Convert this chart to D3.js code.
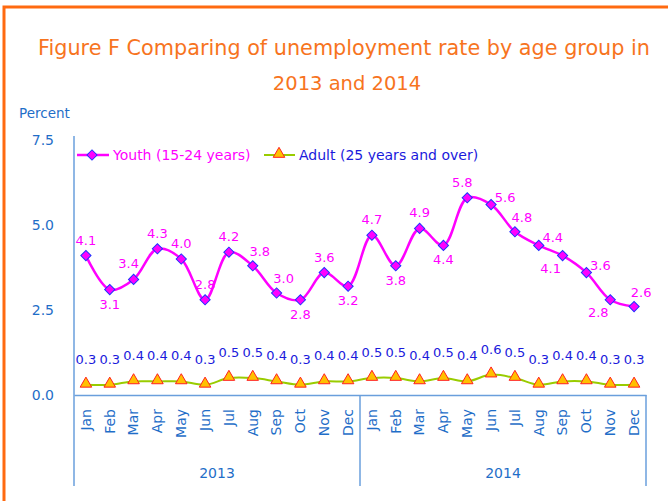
<!DOCTYPE html>
<html>
<head>
<meta charset="utf-8">
<script src="https://cdn.jsdelivr.net/npm/d3@7"></script>
<style>
  body { margin: 0; background: #fff; }
  svg { display: block; font-family: "DejaVu Sans", sans-serif; }
</style>
</head>
<body>
<svg id="chart" width="668" height="501"></svg>
<script>
// Data

var months = ["Jan","Feb","Mar","Apr","May","Jun","Jul","Aug","Sep","Oct","Nov","Dec"];
var years = ["2013","2014"];
var youth = [4.1,3.1,3.4,4.3,4.0,2.8,4.2,3.8,3.0,2.8,3.6,3.2,
             4.7,3.8,4.9,4.4,5.8,5.6,4.8,4.4,4.1,3.6,2.8,2.6];
var adult = [0.3,0.3,0.4,0.4,0.4,0.3,0.5,0.5,0.4,0.3,0.4,0.4,
             0.5,0.5,0.4,0.5,0.4,0.6,0.5,0.3,0.4,0.4,0.3,0.3];
var yTicks = [0, 2.5, 5.0, 7.5];
// where each youth label sits around its point
var youthLabelPos = ["t","b","tl","t","t","t","t","tr","tr","b","t","b",
                     "t","b","t","b","tl","r","tr","r","bl","r","bl","tr"];

var labelOffset = {
    t:  [0, -11], b:  [0, 19], tl: [-5, -11], tr: [7, -10],
    r:  [14, -3], bl: [-12, 17]
};

// Chart

var svg = d3.select("#chart");
var axisColor = "#6a9fdc", textBlue = "#1f6ec8";

svg.append("rect")
    .attr("x", 4).attr("y", 7).attr("width", 680).attr("height", 520)
    .attr("fill", "none").attr("stroke", "#ff6a10").attr("stroke-width", 3);

svg.append("text").attr("x", 344).attr("y", 55)
    .attr("text-anchor", "middle").attr("fill", "#f7741e").attr("font-size", 20.5)
    .attr("textLength", 612).attr("lengthAdjust", "spacingAndGlyphs")
    .text("Figure F Comparing of unemployment rate by age group in");
svg.append("text").attr("x", 347).attr("y", 90)
    .attr("text-anchor", "middle").attr("fill", "#f7741e").attr("font-size", 19.5)
    .text("2013 and 2014");

svg.append("text").attr("x", 19).attr("y", 118)
    .attr("fill", textBlue).attr("font-size", 13.5).text("Percent");

var n = youth.length;
var x = d3.scaleBand().domain(d3.range(n)).range([74, 646]);
var cx = function(i) { return x(i) + x.bandwidth() / 2; };
var y = d3.scaleLinear().domain([0, 7.5]).range([395, 140]);

// y axis
var yAxis = svg.append("g")
    .attr("transform", "translate(74,0)")
    .call(d3.axisLeft(y).tickValues(yTicks).tickSize(0).tickPadding(20).tickFormat(d3.format(".1f")));
yAxis.select(".domain").remove();
yAxis.selectAll("text").attr("fill", textBlue).attr("font-size", 14)
    .attr("font-family", "DejaVu Sans");

svg.append("line").attr("x1", 74).attr("x2", 74).attr("y1", 136).attr("y2", 486)
    .attr("stroke", axisColor).attr("stroke-width", 1.5);

// x axis
var xAxis = svg.append("g")
    .attr("transform", "translate(0,395)")
    .call(d3.axisBottom(x).tickSize(0).tickFormat(function(i) { return months[i % 12]; }));
xAxis.select(".domain").attr("stroke", axisColor).attr("stroke-width", 1.5);
xAxis.selectAll("text")
    .attr("fill", textBlue).attr("font-size", 14).attr("font-family", "DejaVu Sans")
    .attr("text-anchor", "end")
    .attr("transform", "rotate(-90)")
    .attr("x", -14).attr("y", 0).attr("dy", "0.35em");

// year groups
years.forEach(function(yr, k) {
    var x0 = x(k * 12), x1 = x(k * 12 + 11) + x.bandwidth();
    svg.append("line").attr("x1", x1).attr("x2", x1).attr("y1", 395).attr("y2", 486)
        .attr("stroke", axisColor).attr("stroke-width", 1.5);
    svg.append("text").attr("x", (x0 + x1) / 2).attr("y", 478)
        .attr("text-anchor", "middle").attr("fill", textBlue).attr("font-size", 14)
        .text(yr);
});

// lines
var line = d3.line()
    .x(function(d, i) { return cx(i); })
    .y(function(d) { return y(d); })
    .curve(d3.curveCatmullRom.alpha(0.5));

svg.append("path").datum(adult).attr("d", line)
    .attr("fill", "none").attr("stroke", "#99cc00").attr("stroke-width", 2);
svg.append("path").datum(youth).attr("d", line)
    .attr("fill", "none").attr("stroke", "#ff00ff").attr("stroke-width", 2.5);

var diamond = d3.symbol().type(d3.symbolSquare).size(52);
var triangle = d3.symbol().type(d3.symbolTriangle).size(58);

svg.selectAll(".adultPt").data(adult).enter().append("path")
    .attr("d", triangle)
    .attr("transform", function(d, i) { return "translate(" + cx(i) + "," + (y(d) - 1) + ")"; })
    .attr("fill", "#ffc000").attr("stroke", "#ff2020").attr("stroke-width", 1);

svg.selectAll(".youthPt").data(youth).enter().append("path")
    .attr("d", diamond)
    .attr("transform", function(d, i) { return "translate(" + cx(i) + "," + y(d) + ") rotate(45)"; })
    .attr("fill", "#ff00ff").attr("stroke", "#2233ff").attr("stroke-width", 1);

// data labels
svg.selectAll(".adultLbl").data(adult).enter().append("text")
    .attr("x", function(d, i) { return cx(i); })
    .attr("y", function(d) { return y(d) - 21; })
    .attr("text-anchor", "middle").attr("fill", "#1a1adc").attr("font-size", 13)
    .text(d3.format(".1f"));

svg.selectAll(".youthLbl").data(youth).enter().append("text")
    .attr("x", function(d, i) { return cx(i) + labelOffset[youthLabelPos[i]][0]; })
    .attr("y", function(d, i) { return y(d) + labelOffset[youthLabelPos[i]][1]; })
    .attr("text-anchor", "middle").attr("fill", "#ff00ff").attr("font-size", 13)
    .text(d3.format(".1f"));

// legend
var lg = svg.append("g").attr("transform", "translate(0,155)");
lg.append("line").attr("x1", 77).attr("x2", 109).attr("stroke", "#ff00ff").attr("stroke-width", 2.5);
lg.append("path").attr("d", diamond).attr("transform", "translate(92,0) rotate(45)")
    .attr("fill", "#ff00ff").attr("stroke", "#2233ff").attr("stroke-width", 1);
lg.append("text").attr("x", 113).attr("y", 5).attr("fill", "#ff00ff").attr("font-size", 14)
    .text("Youth (15-24 years)");
lg.append("line").attr("x1", 264).attr("x2", 295).attr("stroke", "#99cc00").attr("stroke-width", 2);
lg.append("path").attr("d", triangle).attr("transform", "translate(279,-1)")
    .attr("fill", "#ffc000").attr("stroke", "#ff2020").attr("stroke-width", 1);
lg.append("text").attr("x", 299).attr("y", 5).attr("fill", "#1a1adc").attr("font-size", 14)
    .text("Adult (25 years and over)");
</script>
</body>
</html>
